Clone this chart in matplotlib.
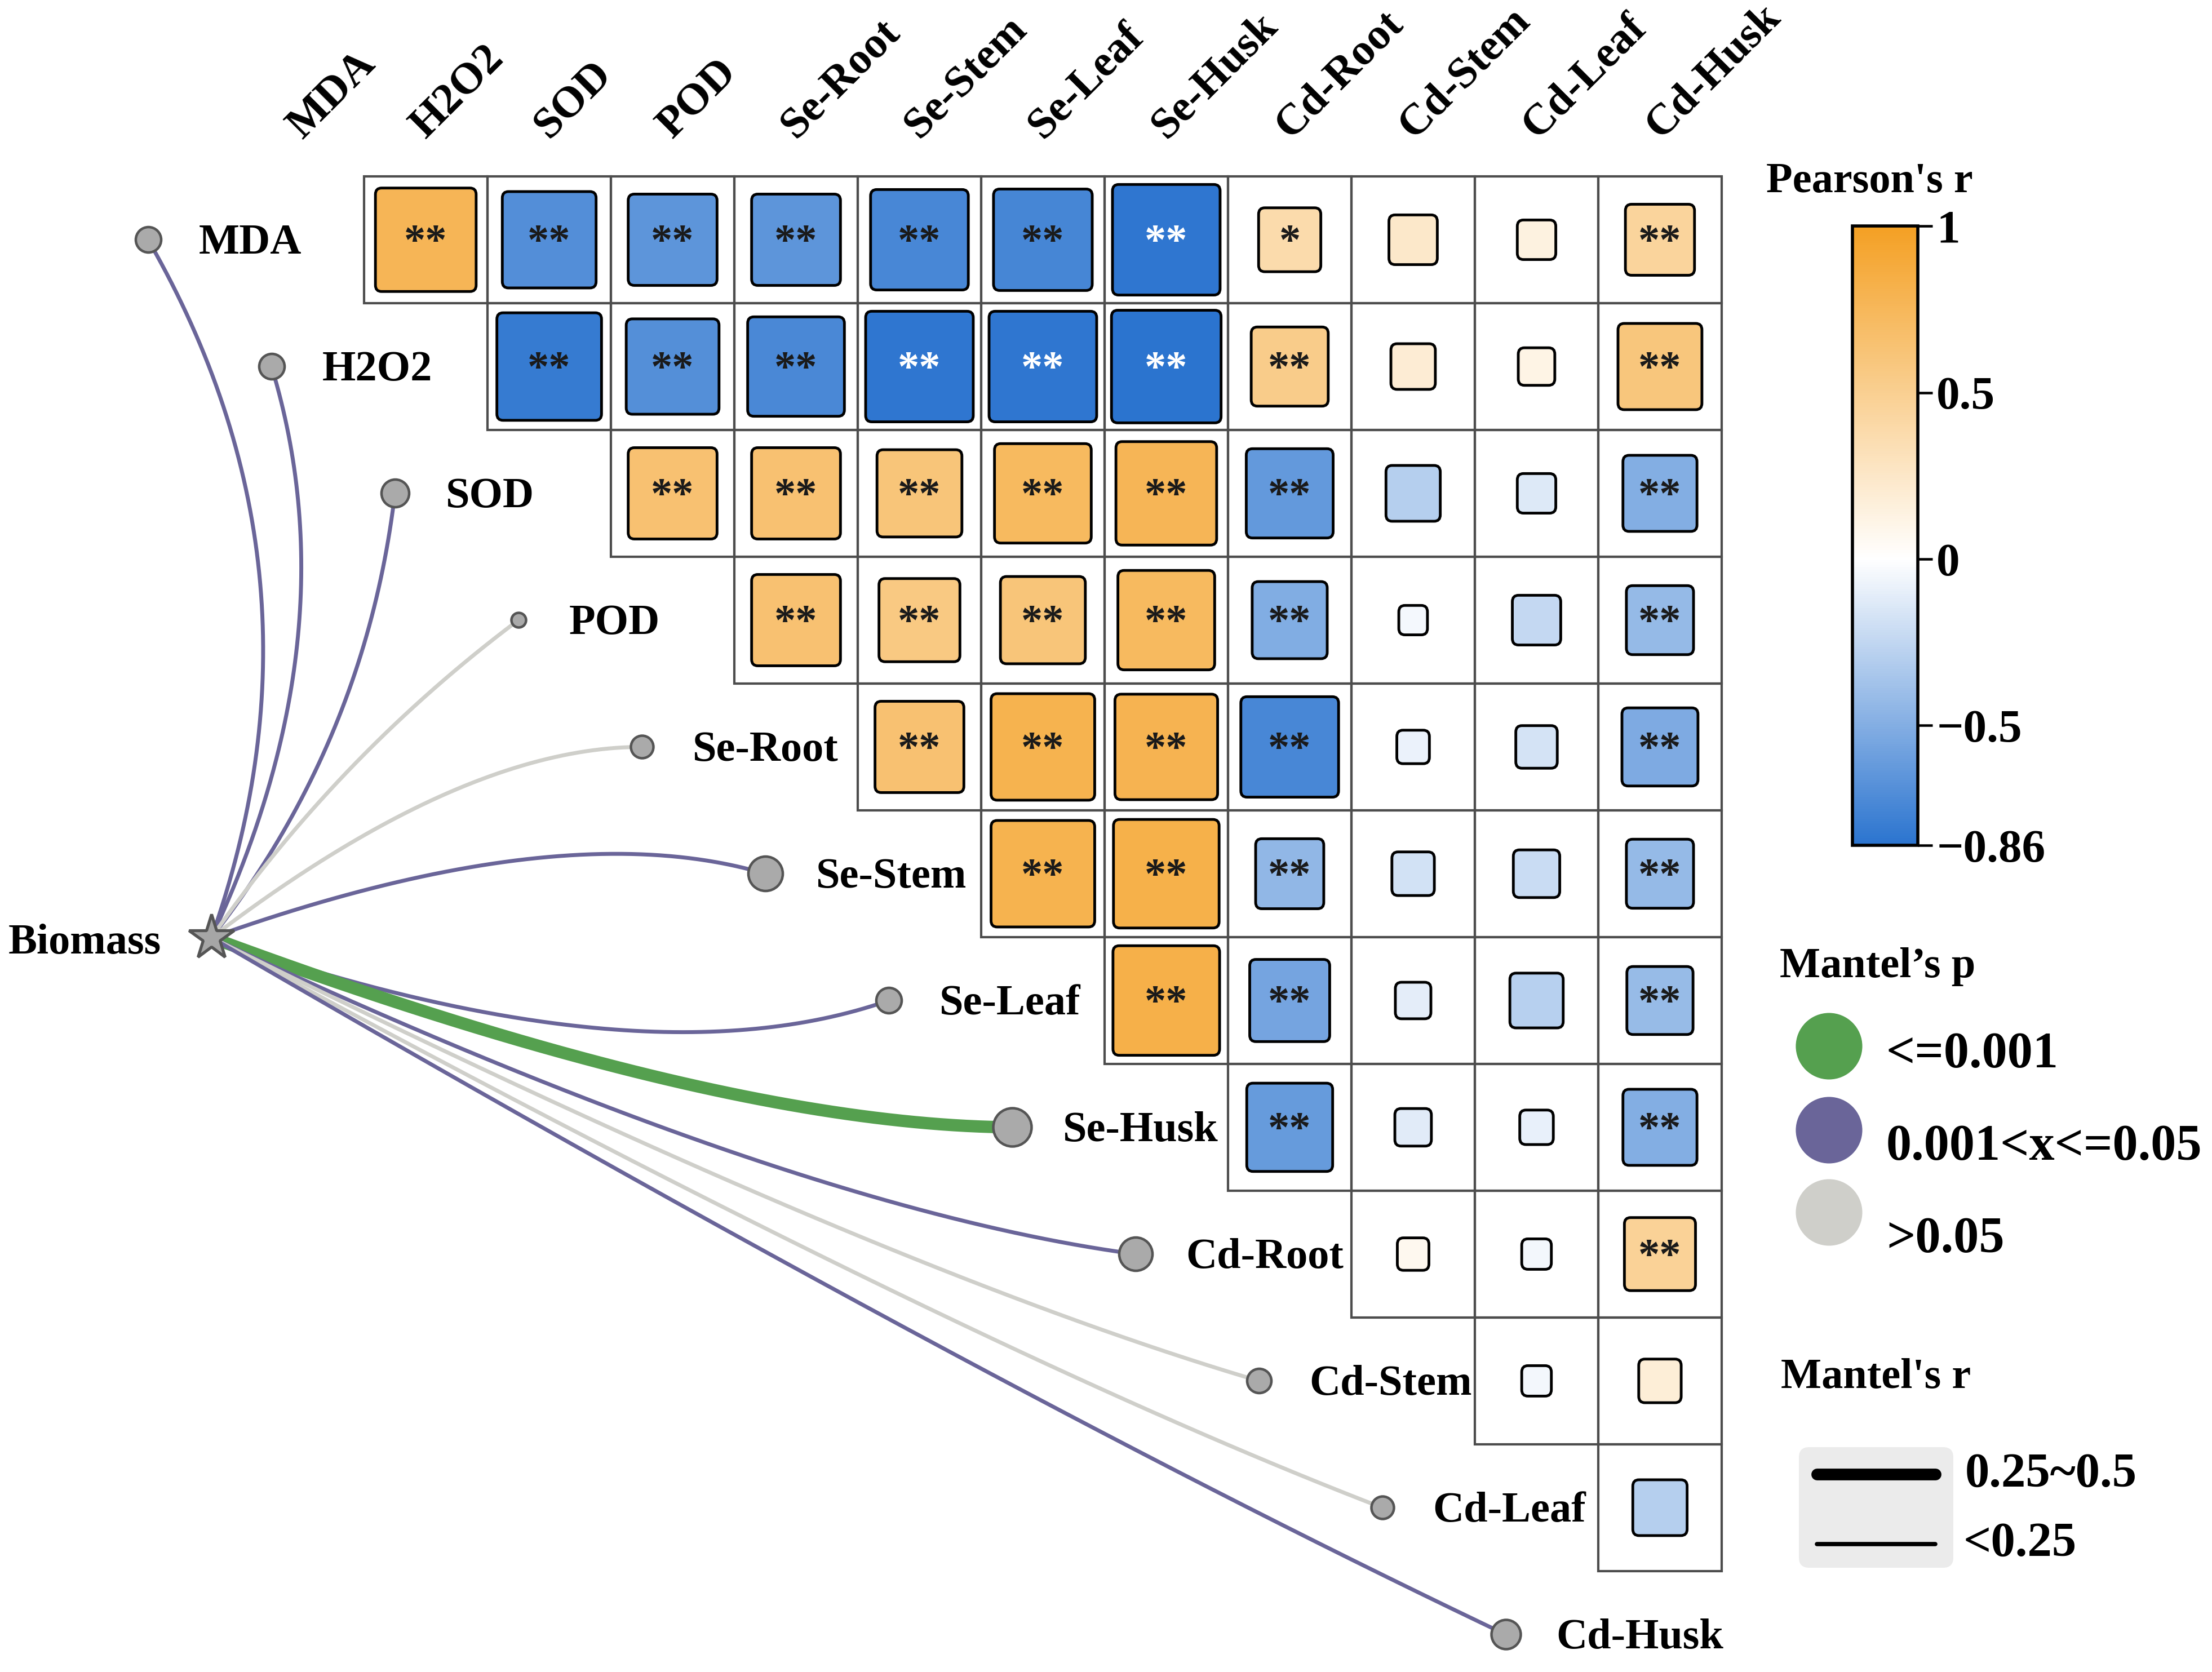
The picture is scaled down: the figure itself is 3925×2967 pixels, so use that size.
import matplotlib
matplotlib.use('Agg')
import matplotlib.pyplot as plt
import numpy as np
from matplotlib.colors import LinearSegmentedColormap, Normalize
from matplotlib.patches import FancyBboxPatch, Rectangle
from matplotlib.cm import ScalarMappable

plt.rcParams['font.family'] = ['Liberation Serif', 'DejaVu Serif']
plt.rcParams['font.weight'] = 'bold'

# variables (rows and columns of the correlation matrix)
labels = ['MDA', 'H2O2', 'SOD', 'POD', 'Se-Root', 'Se-Stem', 'Se-Leaf', 'Se-Husk',
          'Cd-Root', 'Cd-Stem', 'Cd-Leaf', 'Cd-Husk']

# Pearson's r, upper triangle: row i holds columns i+1 .. 11
r_upper = [
    [0.77, -0.70, -0.65, -0.65, -0.74, -0.75, -0.84, 0.38, 0.24, 0.14, 0.45],
    [-0.81, -0.69, -0.73, -0.84, -0.84, -0.86, 0.53, 0.20, 0.12, 0.60],
    [0.65, 0.65, 0.61, 0.73, 0.77, -0.63, -0.30, -0.14, -0.50],
    [0.65, 0.57, 0.61, 0.73, -0.51, -0.04, -0.24, -0.43],
    [0.65, 0.80, 0.79, -0.74, -0.08, -0.17, -0.52],
    [0.80, 0.82, -0.44, -0.18, -0.22, -0.43],
    [0.83, -0.56, -0.11, -0.29, -0.42],
    [-0.62, -0.12, -0.09, -0.50],
    [0.07, -0.05, 0.47],
    [-0.05, 0.18],
    [-0.30],
]
sig_upper = [
    ['**', '**', '**', '**', '**', '**', '**', '*', '', '', '**'],
    ['**', '**', '**', '**', '**', '**', '**', '', '', '**'],
    ['**', '**', '**', '**', '**', '**', '', '', '**'],
    ['**', '**', '**', '**', '**', '', '', '**'],
    ['**', '**', '**', '**', '', '', '**'],
    ['**', '**', '**', '', '', '**'],
    ['**', '**', '', '', '**'],
    ['**', '', '', '**'],
    ['', '', '**'],
    ['', ''],
    [''],
]

# Mantel test of Biomass against each variable
mantel_r = [0.167, 0.167, 0.185, 0.081, 0.144, 0.239, 0.167, 0.27, 0.23, 0.158, 0.144, 0.198]
mantel_p = ['0.001<x<=0.05', '0.001<x<=0.05', '0.001<x<=0.05', '>0.05', '>0.05',
            '0.001<x<=0.05', '0.001<x<=0.05', '<=0.001', '0.001<x<=0.05', '>0.05',
            '>0.05', '0.001<x<=0.05']

# styles
p_colors = {'<=0.001': '#55A04F', '0.001<x<=0.05': '#6A6599', '>0.05': '#CFCFCA'}
bend = [0.23, 0.19, 0.14, -0.08, -0.155, -0.15, 0.16, 0.08, 0.07, 0.04, 0.03, 0.02]
skew = [0.5, 0.55, 0.5, 0.5, 0.65, 0.65, 0.65, 0.65, 0.65, 0.65, 0.65, 0.6]

cmap = LinearSegmentedColormap.from_list(
    'pr', [(0, '#2B74CF'), (0.86 / 1.86, '#FFFFFF'), (1, '#F4A024')])
norm = Normalize(-0.86, 1)

DPI = 250
fig = plt.figure(figsize=(3925 / DPI, 2967 / DPI), dpi=DPI)
ax = fig.add_axes([0, 0, 1, 1])
ax.set_xlim(-2.45, 15.473)
ax.set_ylim(11.296, -1.891)
ax.axis('off')
cw, ch = 219.0, 225.0  # pixel size of one cell

n = len(labels)
# heatmap cells
for i in range(n - 1):
    for k, r in enumerate(r_upper[i]):
        j = i + 1 + k
        ax.add_patch(Rectangle((j - 0.5, i - 0.5), 1, 1, fc='none', ec='#4D4D4D', lw=1.2, zorder=1))
        s = 0.2 + 0.8 * abs(r)
        ax.add_patch(FancyBboxPatch((j - s / 2, i - s / 2), s, s,
                                    boxstyle='round,pad=0,rounding_size=0.05',
                                    fc=cmap(norm(r)), ec='black', lw=1.4, zorder=2))
        mark = sig_upper[i][k]
        if mark:
            ax.text(j, i + 0.11, mark, ha='center', va='baseline', fontsize=22,
                    fontweight='bold', color='white' if r <= -0.835 else '#1A1A1A', zorder=3)

# column labels
for j, lab in enumerate(labels):
    ax.text(j, -0.79, lab, rotation=45, rotation_mode='anchor', ha='left',
            va='baseline', fontsize=22.5)

# Mantel links
star_x, star_y = -0.737, 5.504
for i, lab in enumerate(labels):
    nx, ny = i - 1.25, i
    p0 = np.array([star_x * cw, star_y * ch])
    p2 = np.array([nx * cw, ny * ch])
    d = p2 - p0
    perp = np.array([-d[1], d[0]])
    c = p0 + skew[i] * d + bend[i] * perp
    t = np.linspace(0, 1, 200)[:, None]
    b = (1 - t) ** 2 * p0 + 2 * t * (1 - t) * c + t ** 2 * p2
    lw = 6.3 if mantel_r[i] >= 0.25 else 2.0
    ax.plot(b[:, 0] / cw, b[:, 1] / ch, color=p_colors[mantel_p[i]], lw=lw,
            solid_capstyle='butt', zorder=1)
    diam = (8 + 222 * mantel_r[i]) * 72 / DPI
    ax.plot(nx, ny, 'o', ms=diam, mfc='#AAAAAA', mec='#555555', mew=1.3, zorder=4)
    ax.text(nx + 0.41, ny + 0.11, lab, ha='left', va='baseline', fontsize=22)

ax.plot(star_x, star_y, '*', ms=24, mfc='#A6A6A6', mec='#555555', mew=1.5, zorder=5)
ax.text(-1.144, star_y + 0.125, 'Biomass', ha='right', va='baseline', fontsize=22)

# colorbar
cax = fig.add_axes([0.8375, 0.4944, 0.0296, 0.3704])
cb = fig.colorbar(ScalarMappable(norm=norm, cmap=cmap), cax=cax)
cb.set_ticks([1, 0.5, 0, -0.5, -0.86])
cb.set_ticklabels(['1', '0.5', '0', '\u22120.5', '\u22120.86'])
cb.outline.set_linewidth(1.6)
cax.tick_params(length=7.5, width=1.3, labelsize=24, pad=2)
for tl in cax.get_yticklabels():
    tl.set_fontweight('bold')

# legends drawn in pixel space
lax = fig.add_axes([0, 0, 1, 1])
lax.set_xlim(0, 3925)
lax.set_ylim(2967, 0)
lax.axis('off')

lax.text(3134, 323, "Pearson's r", ha='left', va='center', fontsize=22)

lax.text(3158, 1715, 'Mantel\u2019s p', ha='left', va='center', fontsize=22)
leg_p = ['<=0.001', '0.001<x<=0.05', '>0.05']
for y_c, y_t, key in zip([1856, 2005, 2151], [1872, 2036, 2200], leg_p):
    lax.plot(3245, y_c, 'o', ms=34, mfc=p_colors[key], mec='none')
    lax.text(3347, y_t, key, ha='left', va='center', fontsize=26)

lax.text(3160, 2445, "Mantel's r", ha='left', va='center', fontsize=22)
lax.add_patch(FancyBboxPatch((3192, 2568), 274, 214, boxstyle='round,pad=0,rounding_size=18',
                             fc='#EBEBEB', ec='none'))
lax.plot([3224, 3434], [2616, 2616], color='black', lw=6, solid_capstyle='round')
lax.plot([3224, 3434], [2740, 2740], color='black', lw=2.2, solid_capstyle='round')
lax.text(3487, 2617, '0.25~0.5', ha='left', va='center', fontsize=25)
lax.text(3484, 2740, '<0.25', ha='left', va='center', fontsize=25)

fig.savefig('out.png', dpi=DPI)
